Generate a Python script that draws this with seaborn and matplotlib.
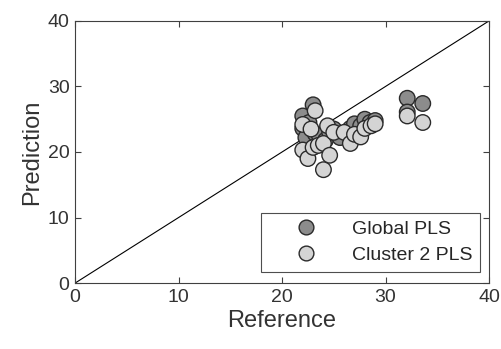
import numpy as np
import pandas as pd
import seaborn as sns
import matplotlib.pyplot as plt

global_ref = [22.0, 22.0, 22.3, 22.6, 23.0, 23.2, 23.6, 24.2, 24.6, 25.0, 25.6, 26.6, 27.0, 27.6, 28.0, 28.5, 29.0, 32.1, 32.1, 33.6]
global_pred = [25.5, 23.6, 22.2, 24.5, 27.2, 22.8, 22.5, 21.8, 23.0, 23.5, 22.2, 23.6, 24.3, 24.0, 25.0, 24.5, 24.8, 28.2, 26.1, 27.4]

cluster_ref = [22.0, 22.0, 22.5, 22.8, 23.0, 23.2, 23.5, 24.0, 24.0, 24.4, 24.6, 25.0, 26.0, 26.6, 27.0, 27.6, 28.0, 28.6, 29.0, 32.1, 33.6]
cluster_pred = [24.2, 20.3, 19.0, 23.5, 20.7, 26.3, 21.0, 17.3, 21.3, 24.0, 19.5, 23.0, 23.0, 21.3, 22.7, 22.3, 23.6, 24.0, 24.3, 25.5, 24.5]

labels = ["Global PLS", "Cluster 2 PLS"]

df = pd.concat([
    pd.DataFrame({"Reference": global_ref, "Prediction": global_pred, "model": labels[0]}),
    pd.DataFrame({"Reference": cluster_ref, "Prediction": cluster_pred, "model": labels[1]}),
])

sns.set_style("white")
plt.rcParams["font.family"] = ["Liberation Sans", "DejaVu Sans"]

fig = plt.figure(figsize=(5.01, 3.49), dpi=100)
ax = fig.add_axes([0.15, 0.189, 0.826, 0.751])

ax.plot([0, 40], [0, 40], color="black", lw=0.8, zorder=1)
sns.scatterplot(data=df, x="Reference", y="Prediction", hue="model",
                palette={labels[0]: "#8c8c8c", labels[1]: "#d4d4d4"},
                s=125, edgecolor="#2a2a2a", linewidth=1.0, ax=ax, zorder=3)

ax.set_xlim(0, 40)
ax.set_ylim(0, 40)
ax.set_xticks([0, 10, 20, 30, 40])
ax.set_yticks([0, 10, 20, 30, 40])
ax.tick_params(direction="in", length=4, width=0.8, color="#404040",
               labelsize=14, labelcolor="#333333", top=True, right=True,
               bottom=True, left=True, pad=4)
ax.set_xlabel("Reference", fontsize=17, color="#333333", labelpad=3)
ax.set_ylabel("Prediction", fontsize=17, color="#333333", labelpad=3)
for sp in ax.spines.values():
    sp.set_color("#404040")
    sp.set_linewidth(0.8)

leg = ax.legend(loc="lower right", fontsize=14, frameon=True, fancybox=False,
                edgecolor="#222222", markerscale=0.95, borderpad=0.4,
                handletextpad=0.45, labelspacing=0.45, handlelength=3.8,
                borderaxespad=0, bbox_to_anchor=(0.978, 0.042))
leg.get_frame().set_linewidth(0.8)
for h in leg.legend_handles:
    h.set_markeredgecolor("#2a2a2a")

fig.savefig("out.png", dpi=100)
